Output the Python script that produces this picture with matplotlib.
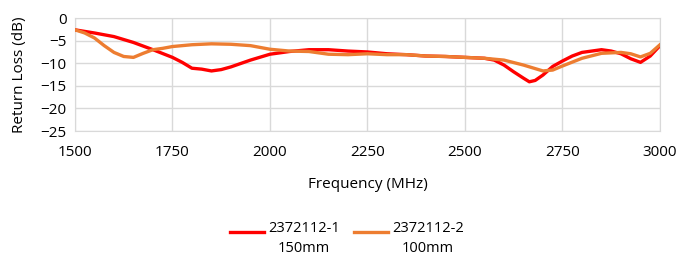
import matplotlib
matplotlib.use('Agg')
import matplotlib.pyplot as plt

freq_red = [1500, 1550, 1600, 1650, 1700, 1750, 1775, 1800, 1825, 1850, 1875,
            1900, 1950, 2000, 2050, 2100, 2150, 2200, 2250, 2300, 2350, 2400,
            2450, 2500, 2550, 2575, 2600, 2625, 2650, 2665, 2680, 2700, 2725,
            2750, 2775, 2800, 2825, 2850, 2875, 2900, 2925, 2950, 2975, 3000]
rl_red = [-2.6, -3.3, -4.1, -5.4, -7.0, -8.7, -9.8, -11.1, -11.3, -11.7, -11.4,
          -10.8, -9.3, -8.0, -7.4, -7.0, -7.0, -7.3, -7.5, -7.9, -8.1, -8.4,
          -8.5, -8.7, -8.9, -9.3, -10.4, -11.9, -13.3, -14.1, -13.8, -12.6, -10.7,
          -9.5, -8.4, -7.6, -7.3, -7.0, -7.3, -7.9, -9.0, -9.8, -8.4, -6.1]

freq_orange = [1500, 1525, 1550, 1575, 1600, 1625, 1650, 1675, 1700, 1725, 1750,
               1800, 1850, 1900, 1950, 2000, 2050, 2100, 2150, 2200, 2250, 2300,
               2350, 2400, 2450, 2500, 2550, 2600, 2650, 2700, 2725, 2750, 2800,
               2850, 2900, 2925, 2950, 2975, 3000]
rl_orange = [-2.6, -3.3, -4.4, -6.1, -7.6, -8.5, -8.7, -7.8, -7.0, -6.7, -6.3,
             -5.9, -5.7, -5.8, -6.1, -6.9, -7.3, -7.4, -8.0, -8.1, -7.9, -8.1,
             -8.1, -8.4, -8.5, -8.7, -8.9, -9.3, -10.4, -11.7, -11.5, -10.6, -8.9,
             -7.8, -7.6, -7.9, -8.6, -7.8, -5.9]

labels = ['2372112-1\n150mm', '2372112-2\n100mm']
x_ticks = [1500, 1750, 2000, 2250, 2500, 2750, 3000]
y_ticks = [0, -5, -10, -15, -20, -25]

plt.rcParams['font.family'] = ['Open Sans', 'DejaVu Sans']

fig = plt.figure(figsize=(6.94, 2.58), dpi=100)
ax = fig.add_axes([0.108, 0.492, 0.843, 0.438])

ax.plot(freq_red, rl_red, color='#FF0000', lw=2.4, label=labels[0], zorder=3)
ax.plot(freq_orange, rl_orange, color='#ED7D31', lw=2.4, label=labels[1], zorder=3)

ax.set_xlim(1500, 3000)
ax.set_ylim(-25, 0)
ax.set_xticks(x_ticks)
ax.set_yticks(y_ticks)
ax.grid(True, color='#d9d9d9', lw=1)
ax.set_axisbelow(True)
for s in ax.spines.values():
    s.set_color('#d9d9d9')
ax.tick_params(length=0, labelsize=11, colors='black')
ax.tick_params(axis='x', pad=10)
ax.tick_params(axis='y', pad=6)
ax.set_xlabel('Frequency (MHz)', fontsize=11, labelpad=12)
ax.set_ylabel('Return Loss (dB)', fontsize=11, labelpad=10)

leg = fig.legend(loc='center', bbox_to_anchor=(0.5, 0.075), ncol=2, frameon=False,
                 fontsize=10.5, handlelength=2.3, columnspacing=1.0, handletextpad=0.3)
for t in leg.get_texts():
    t.set_multialignment('center')
    t.set_linespacing(1.5)
# Excel puts the legend line next to the first text row
for h in leg.legend_handles:
    h.set_transform(h.get_transform() + matplotlib.transforms.ScaledTranslation(0, 5 / 72, fig.dpi_scale_trans))

fig.savefig('out.png', dpi=100)
